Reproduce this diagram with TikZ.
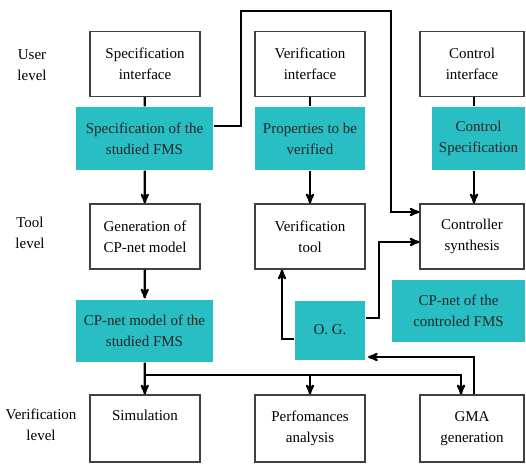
\documentclass[tikz,border=0pt]{standalone}
\usepackage{fontspec}
\setmainfont{Liberation Serif}
\usepackage{tikz}
\usetikzlibrary{arrows}

\definecolor{tealbox}{RGB}{40,190,196}

\begin{document}
\begin{tikzpicture}[x=1pt,y=-1pt,>=stealth',line width=2.2pt,
  font=\fontsize{15}{21}\selectfont]
  \tikzstyle{every node}=[align=center,inner sep=1pt]
  \tikzstyle{box}=[draw=black!75,line width=1.2pt,fill=white,minimum height=65pt]
  \tikzstyle{data}=[fill=tealbox,text=black!85,minimum height=62pt]

  \useasboundingbox (0,0) rectangle (526,465);

  % levels
  \node (user)  at (32,65)  {User\\level};
  \node (tool)  at (30,233) {Tool\\level};
  \node (verif) at (41,425) {Verification\\level};

  % user level
  \node[box,minimum width=110pt] (specint) at (145,64)   {Specification\\interface};
  \node[box,minimum width=110pt] (verint)  at (310,64)   {Verification\\interface};
  \node[box,minimum width=104pt] (ctrlint) at (472,64)   {Control\\interface};
  \node[data,minimum width=137pt] (specfms) at (144.5,138.5) {Specification of the\\studied FMS};
  \node[data,minimum width=110pt] (props)   at (310,138.5)   {Properties to be\\verified};
  \node[data,minimum width=93pt]  (ctrlspec) at (478.5,138.5) {Control\\Specification};

  % tool level
  \node[box,minimum width=110pt] (gen)     at (145,236.5) {Generation of\\CP-net model};
  \node[box,minimum width=110pt] (vertool) at (310,236.5) {Verification\\tool};
  \node[box,minimum width=104pt] (ctrlsyn) at (472,236.5) {Controller\\synthesis};
  \node[data,minimum width=137pt] (cpmodel) at (144.5,330.5) {CP-net model of the\\studied FMS};
  \node[data,minimum width=70pt,minimum height=59pt] (og) at (330,330) {O. G.};
  \node[data,minimum width=133pt] (cpctrl) at (458.5,311) {CP-net of the\\controled FMS};

  % verification level
  \node[box,minimum width=110pt,minimum height=67pt] (sim)  at (145,428.5) {Simulation\\\strut};
  \node[box,minimum width=110pt,minimum height=67pt] (perf) at (310,428.5) {Perfomances\\analysis};
  \node[box,minimum width=104pt,minimum height=67pt] (gma)  at (472,428.5) {GMA\\generation};

  % user level links
  \draw (specint) -- (specfms);
  \draw (verint) -- (props);
  \draw ([xshift=2pt]ctrlint.south) -- ([xshift=2pt]ctrlint.south |- ctrlspec.north);
  \draw[->] ([xshift=-4.5pt]ctrlspec.south) -- ([xshift=2pt]ctrlsyn.north);
  \draw[->] (specfms) -- (gen);
  \draw[->] (props) -- (vertool);
  \draw[->] ([yshift=12.5pt]specfms.east) -- ++(27,0) |- (391,11)
            |- ([yshift=24.5pt]ctrlsyn.west);

  % tool level links
  \draw[->] (gen) -- (cpmodel);
  \draw[->] ([yshift=-9pt]og.west) -| ([xshift=-28pt]vertool.south);
  \draw[->] ([yshift=12pt]og.east) -- ++(13,0) |- ([yshift=-5.5pt]ctrlsyn.west);
  \draw[->] ([xshift=2pt]gma.north) |- ([xshift=2pt,yshift=-27pt]og.east);

  % verification level links
  \draw[->] (cpmodel) -- (sim);
  \draw[->] (145,375) -| ([xshift=-11pt]gma.north);
  \draw[->] (310,375) -- (perf);
\end{tikzpicture}
\end{document}
